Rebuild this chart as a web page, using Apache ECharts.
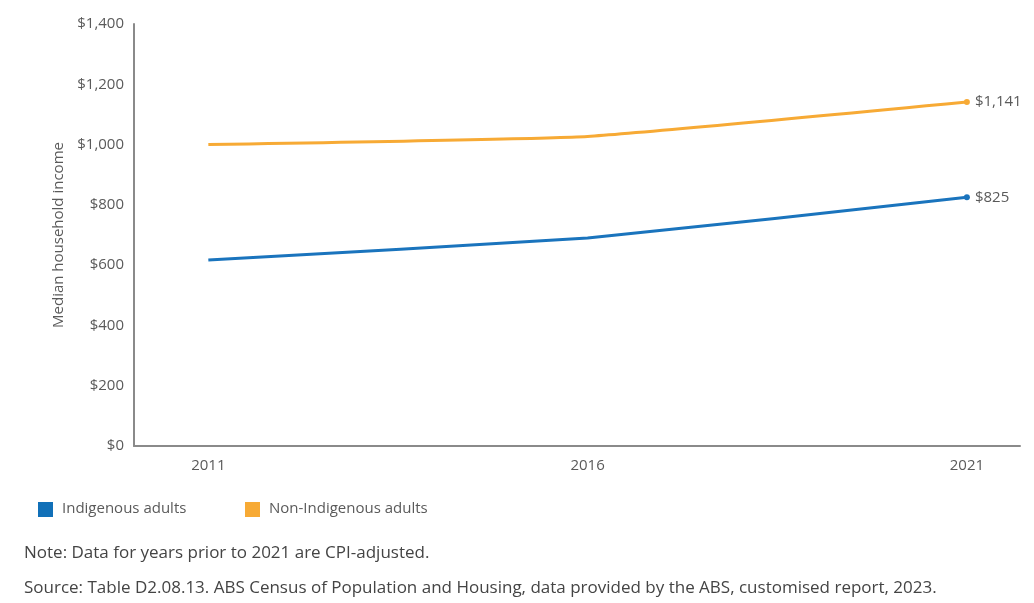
<!DOCTYPE html>
<html>
<head>
<meta charset="utf-8">
<script src="https://cdn.jsdelivr.net/npm/echarts@6/dist/echarts.min.js"></script>
<style>
  body { margin: 0; background: #fff; }
  #chart { width: 1034px; height: 603px; }
</style>
</head>
<body>
<div id="chart"></div>
<script>
// data
var years = [2011, 2016, 2021];
var indigenous = [617, 690, 825];
var nonIndigenous = [1000, 1027, 1141];
var yTicks = [0, 200, 400, 600, 800, 1000, 1200, 1400];

var blue = '#1a74bd';
var orange = '#f7aa35';
var textGrey = '#5a5a5a';

function money(v) {
  return '$' + v.toLocaleString('en-US');
}

function lastOnly(vals) {
  return years.map(function (y, i) {
    var last = i === vals.length - 1;
    return {
      value: [y, vals[i]],
      symbol: last ? 'circle' : 'none',
      symbolSize: 6,
      label: {
        show: last,
        position: 'right',
        distance: 5,
        color: textGrey,
        fontSize: 15,
        formatter: function (d) { return money(d.value[1]); }
      }
    };
  });
}

var chart = echarts.init(document.getElementById('chart'));
var option = {
  animation: false,
  textStyle: { fontFamily: 'Open Sans, sans-serif' },
  grid: { left: 134, right: 14, top: 24, bottom: 157 },
  xAxis: {
    type: 'value',
    min: 2010.02,
    max: 2021.7,
    splitLine: { show: false },
    axisTick: { show: false },
    axisLine: { show: true, lineStyle: { color: '#8a8a8a', width: 2 } },
    axisLabel: {
      customValues: years,
      color: textGrey,
      fontSize: 15,
      margin: 12,
      formatter: function (v) { return String(v); }
    }
  },
  yAxis: {
    type: 'value',
    min: 0,
    max: 1400,
    interval: 200,
    name: 'Median household income',
    nameLocation: 'middle',
    nameGap: 68,
    nameTextStyle: { color: textGrey, fontSize: 15 },
    splitLine: { show: false },
    axisTick: { show: false },
    axisLine: { show: true, lineStyle: { color: '#8a8a8a', width: 2 } },
    axisLabel: {
      color: textGrey,
      fontSize: 15,
      margin: 10,
      formatter: function (v) { return yTicks.indexOf(v) >= 0 ? money(v) : ''; }
    }
  },
  series: [
    {
      name: 'Indigenous adults',
      type: 'line',
      smooth: 0.12,
      color: blue,
      lineStyle: { width: 3 },
      data: lastOnly(indigenous)
    },
    {
      name: 'Non-Indigenous adults',
      type: 'line',
      smooth: 0.12,
      color: orange,
      lineStyle: { width: 3 },
      data: lastOnly(nonIndigenous)
    }
  ],
  graphic: [
    { type: 'rect', left: 38, top: 502, shape: { width: 15, height: 15 }, style: { fill: '#1170b8' } },
    { type: 'text', left: 62, top: 501, style: { text: 'Indigenous adults', fill: textGrey, font: '15px Open Sans' } },
    { type: 'rect', left: 245, top: 502, shape: { width: 15, height: 15 }, style: { fill: orange } },
    { type: 'text', left: 269, top: 501, style: { text: 'Non-Indigenous adults', fill: textGrey, font: '15px Open Sans' } },
    { type: 'text', left: 24, top: 545, style: { text: 'Note: Data for years prior to 2021 are CPI-adjusted.', fill: '#444', font: '17px Open Sans' } },
    { type: 'text', left: 24, top: 580, style: { text: 'Source: Table D2.08.13. ABS Census of Population and Housing, data provided by the ABS, customised report, 2023.', fill: '#444', font: '17px Open Sans' } }
  ]
};
option && chart.setOption(option);
</script>
</body>
</html>
